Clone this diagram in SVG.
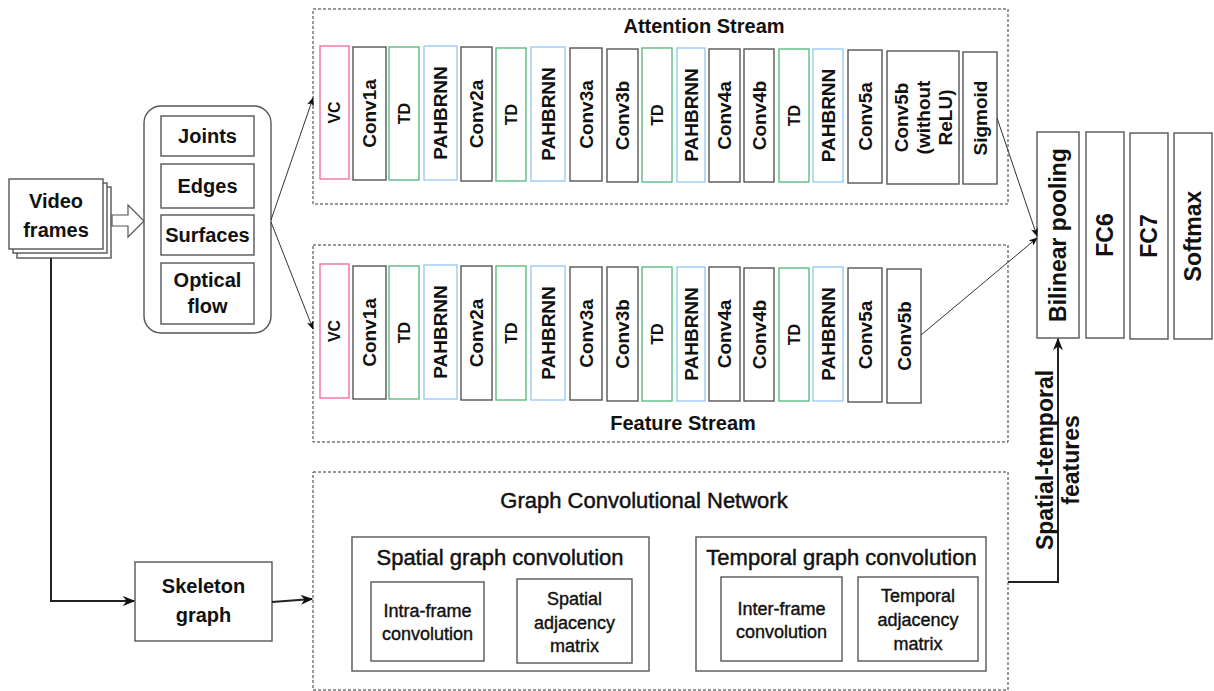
<svg xmlns="http://www.w3.org/2000/svg" width="1214" height="691" viewBox="0 0 1214 691">
<style>
text{font-family:"Liberation Sans",Arial,Helvetica,sans-serif;fill:#111;text-anchor:middle}
.b{font-weight:bold}
.t20{font-size:20px;font-weight:bold}
.lay{font-size:19px;font-weight:bold}
.sm{font-size:16px;font-weight:bold}
.big{font-size:23px;font-weight:bold}
.g22{font-size:22px;stroke:#111;stroke-width:0.45}
.g18{font-size:18px;stroke:#111;stroke-width:0.4}
.dash{fill:none;stroke:#333;stroke-width:1;stroke-dasharray:3 2}
.box{fill:#fff;stroke:#555;stroke-width:1.4}
.gray{fill:#fff;stroke:#555;stroke-width:1.4}
.pink{fill:#fff;stroke:#f46fa5;stroke-width:1.4}
.green{fill:#fff;stroke:#5dbb82;stroke-width:1.4}
.blue{fill:#fff;stroke:#9ccaf6;stroke-width:1.4}
.ln{fill:none;stroke:#333;stroke-width:1}
.thk{fill:none;stroke:#222;stroke-width:2}
</style>
<defs>
<marker id="ah" viewBox="0 0 10 8" refX="9" refY="4" markerWidth="9" markerHeight="7" markerUnits="userSpaceOnUse" orient="auto">
<path d="M0,0 L10,4 L0,8 L2.5,4 z" fill="#111"/>
</marker>
<marker id="ahT" viewBox="0 0 10 8" refX="9" refY="4" markerWidth="13" markerHeight="10" markerUnits="userSpaceOnUse" orient="auto">
<path d="M0,0 L10,4 L0,8 L3,4 z" fill="#111"/>
</marker>
</defs>

<!-- Containers -->
<g id="attention-stream">
<rect class="dash" x="313" y="9" width="695" height="195"/>
<text class="t20" x="704" y="33">Attention Stream</text>
</g>
<g id="feature-stream">
<rect class="dash" x="313" y="245" width="695" height="197"/>
<text class="t20" x="683" y="430">Feature Stream</text>
</g>
<g id="gcn">
<rect class="dash" x="313" y="472" width="695" height="218"/>
<text class="g22" x="644" y="508">Graph Convolutional Network</text>
</g>

<!-- Video frames -->
<g id="video-frames">
<rect class="box" x="17" y="187" width="94" height="71"/>
<rect class="box" x="13" y="183" width="94" height="70"/>
<rect class="box" x="9" y="179" width="94" height="70"/>
<text class="t20" x="56" y="208">Video</text>
<text class="t20" x="56" y="237">frames</text>
</g>
<g id="hollow-arrow">
<polygon points="112,215 128,215 128,205 144,221 128,237 128,226 112,226" fill="#fff" stroke="#555" stroke-width="1.2"/>
</g>

<!-- Input modalities -->
<g id="modalities">
<rect class="box" x="144" y="106" width="127" height="227" rx="17"/>
</g>
<g id="joints"><rect class="box" x="161" y="116" width="93" height="40"/><text class="t20" x="207.5" y="143">Joints</text></g>
<g id="edges"><rect class="box" x="161" y="164" width="93" height="44"/><text class="t20" x="207.5" y="193">Edges</text></g>
<g id="surfaces"><rect class="box" x="161" y="215" width="93" height="40"/><text class="t20" x="207.5" y="242">Surfaces</text></g>
<g id="optical-flow"><rect class="box" x="161" y="263" width="93" height="61"/><text class="t20" x="207.5" y="287">Optical</text><text class="t20" x="207.5" y="313">flow</text></g>

<!-- Attention stream layers -->
<g id="a-vc"><rect class="pink" x="320" y="46" width="29" height="133"/><text class="sm" transform="translate(334.5,112.5) rotate(-90)" dy="0.35em">VC</text></g>
<g id="a-conv1a"><rect class="gray" x="353" y="47" width="33" height="133"/><text class="lay" transform="translate(369.5,113.5) rotate(-90)" dy="0.35em">Conv1a</text></g>
<g id="a-td1"><rect class="green" x="389" y="47" width="30" height="133"/><text class="sm" transform="translate(404,113.5) rotate(-90)" dy="0.35em">TD</text></g>
<g id="a-pah1"><rect class="blue" x="424" y="46" width="33" height="134"/><text class="lay" transform="translate(440.5,113) rotate(-90)" dy="0.35em">PAHBRNN</text></g>
<g id="a-conv2a"><rect class="gray" x="461" y="47" width="31" height="134"/><text class="lay" transform="translate(476.5,114) rotate(-90)" dy="0.35em">Conv2a</text></g>
<g id="a-td2"><rect class="green" x="496" y="48" width="30" height="133"/><text class="sm" transform="translate(511,114.5) rotate(-90)" dy="0.35em">TD</text></g>
<g id="a-pah2"><rect class="blue" x="531" y="47" width="34" height="134"/><text class="lay" transform="translate(548,114) rotate(-90)" dy="0.35em">PAHBRNN</text></g>
<g id="a-conv3a"><rect class="gray" x="570" y="48" width="32" height="133"/><text class="lay" transform="translate(586,114.5) rotate(-90)" dy="0.35em">Conv3a</text></g>
<g id="a-conv3b"><rect class="gray" x="607" y="49" width="31" height="133"/><text class="lay" transform="translate(622.5,115.5) rotate(-90)" dy="0.35em">Conv3b</text></g>
<g id="a-td3"><rect class="green" x="642" y="48" width="30" height="134"/><text class="sm" transform="translate(657,115) rotate(-90)" dy="0.35em">TD</text></g>
<g id="a-pah3"><rect class="blue" x="677" y="48" width="28" height="134"/><text class="lay" transform="translate(691,115) rotate(-90)" dy="0.35em">PAHBRNN</text></g>
<g id="a-conv4a"><rect class="gray" x="709" y="49" width="31" height="133"/><text class="lay" transform="translate(724.5,115.5) rotate(-90)" dy="0.35em">Conv4a</text></g>
<g id="a-conv4b"><rect class="gray" x="744" y="49" width="30" height="133"/><text class="lay" transform="translate(759,115.5) rotate(-90)" dy="0.35em">Conv4b</text></g>
<g id="a-td4"><rect class="green" x="779" y="49" width="30" height="133"/><text class="sm" transform="translate(794,115.5) rotate(-90)" dy="0.35em">TD</text></g>
<g id="a-pah4"><rect class="blue" x="813" y="49" width="30" height="133"/><text class="lay" transform="translate(828,115.5) rotate(-90)" dy="0.35em">PAHBRNN</text></g>
<g id="a-conv5a"><rect class="gray" x="848" y="50" width="34" height="133"/><text class="lay" transform="translate(865,116.5) rotate(-90)" dy="0.35em">Conv5a</text></g>
<g id="a-conv5b"><rect class="gray" x="887" y="51" width="72" height="133"/><text class="lay" transform="translate(923,117.5) rotate(-90)"><tspan x="0" y="-15">Conv5b</tspan><tspan x="0" y="7">(without</tspan><tspan x="0" y="29">ReLU)</tspan></text></g>
<g id="a-sigmoid"><rect class="gray" x="963" y="52" width="34" height="132"/><text class="lay" transform="translate(980,118) rotate(-90)" dy="0.35em">Sigmoid</text></g>

<!-- Feature stream layers -->
<g id="f-vc"><rect class="pink" x="320" y="264" width="29" height="134"/><text class="sm" transform="translate(334.5,331) rotate(-90)" dy="0.35em">VC</text></g>
<g id="f-conv1a"><rect class="gray" x="353" y="266" width="33" height="133"/><text class="lay" transform="translate(369.5,332.5) rotate(-90)" dy="0.35em">Conv1a</text></g>
<g id="f-td1"><rect class="green" x="389" y="266" width="30" height="133"/><text class="sm" transform="translate(404,332.5) rotate(-90)" dy="0.35em">TD</text></g>
<g id="f-pah1"><rect class="blue" x="424" y="265" width="33" height="134"/><text class="lay" transform="translate(440.5,332) rotate(-90)" dy="0.35em">PAHBRNN</text></g>
<g id="f-conv2a"><rect class="gray" x="461" y="266" width="31" height="134"/><text class="lay" transform="translate(476.5,333) rotate(-90)" dy="0.35em">Conv2a</text></g>
<g id="f-td2"><rect class="green" x="496" y="266" width="30" height="134"/><text class="sm" transform="translate(511,333) rotate(-90)" dy="0.35em">TD</text></g>
<g id="f-pah2"><rect class="blue" x="531" y="266" width="34" height="134"/><text class="lay" transform="translate(548,333) rotate(-90)" dy="0.35em">PAHBRNN</text></g>
<g id="f-conv3a"><rect class="gray" x="570" y="267" width="32" height="133"/><text class="lay" transform="translate(586,333.5) rotate(-90)" dy="0.35em">Conv3a</text></g>
<g id="f-conv3b"><rect class="gray" x="607" y="267" width="31" height="134"/><text class="lay" transform="translate(622.5,334) rotate(-90)" dy="0.35em">Conv3b</text></g>
<g id="f-td3"><rect class="green" x="642" y="267" width="30" height="134"/><text class="sm" transform="translate(657,334) rotate(-90)" dy="0.35em">TD</text></g>
<g id="f-pah3"><rect class="blue" x="677" y="267" width="28" height="134"/><text class="lay" transform="translate(691,334) rotate(-90)" dy="0.35em">PAHBRNN</text></g>
<g id="f-conv4a"><rect class="gray" x="709" y="267" width="31" height="134"/><text class="lay" transform="translate(724.5,334) rotate(-90)" dy="0.35em">Conv4a</text></g>
<g id="f-conv4b"><rect class="gray" x="744" y="268" width="30" height="133"/><text class="lay" transform="translate(759,334.5) rotate(-90)" dy="0.35em">Conv4b</text></g>
<g id="f-td4"><rect class="green" x="779" y="268" width="30" height="133"/><text class="sm" transform="translate(794,334.5) rotate(-90)" dy="0.35em">TD</text></g>
<g id="f-pah4"><rect class="blue" x="813" y="267" width="30" height="134"/><text class="lay" transform="translate(828,334) rotate(-90)" dy="0.35em">PAHBRNN</text></g>
<g id="f-conv5a"><rect class="gray" x="848" y="268" width="34" height="134"/><text class="lay" transform="translate(865,335) rotate(-90)" dy="0.35em">Conv5a</text></g>
<g id="f-conv5b"><rect class="gray" x="887" y="269" width="34" height="134"/><text class="lay" transform="translate(904,336) rotate(-90)" dy="0.35em">Conv5b</text></g>

<!-- Classifier -->
<g id="bilinear"><rect class="gray" x="1037" y="132" width="42" height="206"/><text class="big" transform="translate(1058,235) rotate(-90)" dy="0.35em">Bilinear pooling</text></g>
<g id="fc6"><rect class="gray" x="1086" y="132" width="38" height="206"/><text class="big" transform="translate(1105,235) rotate(-90)" dy="0.35em">FC6</text></g>
<g id="fc7"><rect class="gray" x="1130" y="133" width="38" height="206"/><text class="big" transform="translate(1149,236) rotate(-90)" dy="0.35em">FC7</text></g>
<g id="softmax"><rect class="gray" x="1174" y="133" width="38" height="206"/><text class="big" transform="translate(1193,236) rotate(-90)" dy="0.35em">Softmax</text></g>

<!-- Skeleton graph -->
<g id="skeleton-graph"><rect class="box" x="135" y="562" width="137" height="79"/><text class="t20" x="203.5" y="593">Skeleton</text><text class="t20" x="203.5" y="622">graph</text></g>

<!-- GCN internals -->
<g id="spatial-gc"><rect class="box" x="352" y="537" width="297" height="134"/><text class="g22" x="500" y="565">Spatial graph convolution</text></g>
<g id="intra-frame"><rect class="box" x="371" y="582" width="113" height="79"/><text class="g18" x="427.5" y="617">Intra-frame</text><text class="g18" x="427.5" y="640">convolution</text></g>
<g id="spatial-adj"><rect class="box" x="517" y="579" width="115" height="84"/><text class="g18" x="574.5" y="605">Spatial</text><text class="g18" x="574.5" y="629">adjacency</text><text class="g18" x="574.5" y="652">matrix</text></g>
<g id="temporal-gc"><rect class="box" x="696" y="537" width="290" height="134"/><text class="g22" x="841.5" y="565">Temporal graph convolution</text></g>
<g id="inter-frame"><rect class="box" x="721" y="577" width="121" height="84"/><text class="g18" x="781.5" y="615">Inter-frame</text><text class="g18" x="781.5" y="638">convolution</text></g>
<g id="temporal-adj"><rect class="box" x="858" y="577" width="120" height="84"/><text class="g18" x="918" y="602">Temporal</text><text class="g18" x="918" y="626">adjacency</text><text class="g18" x="918" y="650">matrix</text></g>

<!-- Connectors -->
<g id="connectors">
<line class="ln" x1="271" y1="220" x2="313" y2="98" marker-end="url(#ah)"/>
<line class="ln" x1="271" y1="222" x2="313" y2="329" marker-end="url(#ah)"/>
<line class="ln" x1="997" y1="118" x2="1037" y2="236" marker-end="url(#ah)"/>
<line class="ln" x1="921" y1="335" x2="1037" y2="238" marker-end="url(#ah)"/>
<polyline class="thk" points="51,258 51,601 134,601" marker-end="url(#ahT)"/>
<line class="thk" x1="272" y1="602" x2="312" y2="599" marker-end="url(#ahT)"/>
<polyline class="thk" points="1008,582 1058,582 1058,339" marker-end="url(#ahT)"/>
<text class="big" transform="translate(1058,460) rotate(-90)"><tspan x="0" y="-5">Spatial-temporal</tspan><tspan x="0" y="21">features</tspan></text>
</g>
</svg>
